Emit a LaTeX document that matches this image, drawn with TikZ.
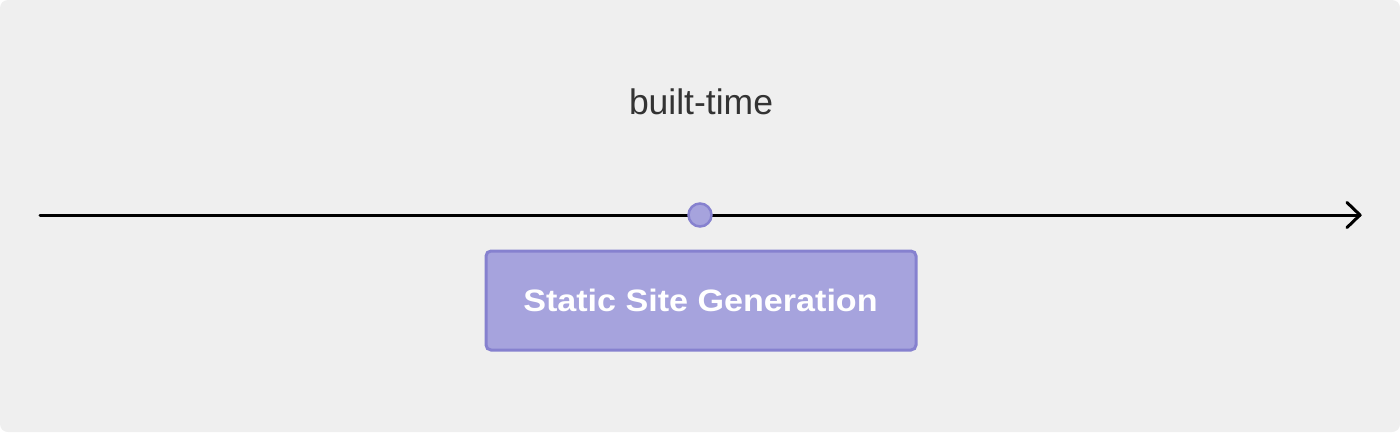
\documentclass[tikz,border=0pt]{standalone}
\usepackage{fontspec}
\setmainfont{Liberation Sans}
\newfontfamily\widebold[FakeStretch=1.10]{Liberation Sans}
\definecolor{bg}{HTML}{EFEFEF}
\definecolor{boxfill}{HTML}{A6A3DD}
\definecolor{boxline}{HTML}{8681CF}
\definecolor{txt}{HTML}{333333}
\tikzset{
  ssgbox/.style={draw=boxline, fill=boxfill, line width=3pt, rounded corners=5pt, minimum width=430pt, minimum height=99pt, inner sep=0pt},
  dotnode/.style={circle, draw=boxline, fill=boxfill, line width=2.5pt, minimum size=23pt, inner sep=0pt},
  axis/.style={line width=3pt, line cap=round},
}
\begin{document}
\begin{tikzpicture}[x=1pt,y=-1pt]
\useasboundingbox (0,0) rectangle (1400,432);
\fill[white] (0,0) rectangle (1400,432);
\fill[bg, rounded corners=8pt] (0,0) rectangle (1400,432);
\coordinate (start) at (40,215);
\coordinate (end) at (1360,215);
\draw[axis] (start) -- (end);
\draw[axis, line join=round] (1347,202.5) -- (end) -- (1347,227.5);
\node[dotnode] (dot) at (700,215) {};
\node[ssgbox] (ssg) at (701,300.5) {};
\node[text=white, anchor=base, font=\widebold\bfseries\fontsize{31}{38}\selectfont] (ssgl) at (700.5,311) {Static Site Generation};
\node[text=txt, anchor=base, font=\fontsize{35.5}{42}\selectfont] (bt) at (701,114) {built-time};
\end{tikzpicture}
\end{document}
